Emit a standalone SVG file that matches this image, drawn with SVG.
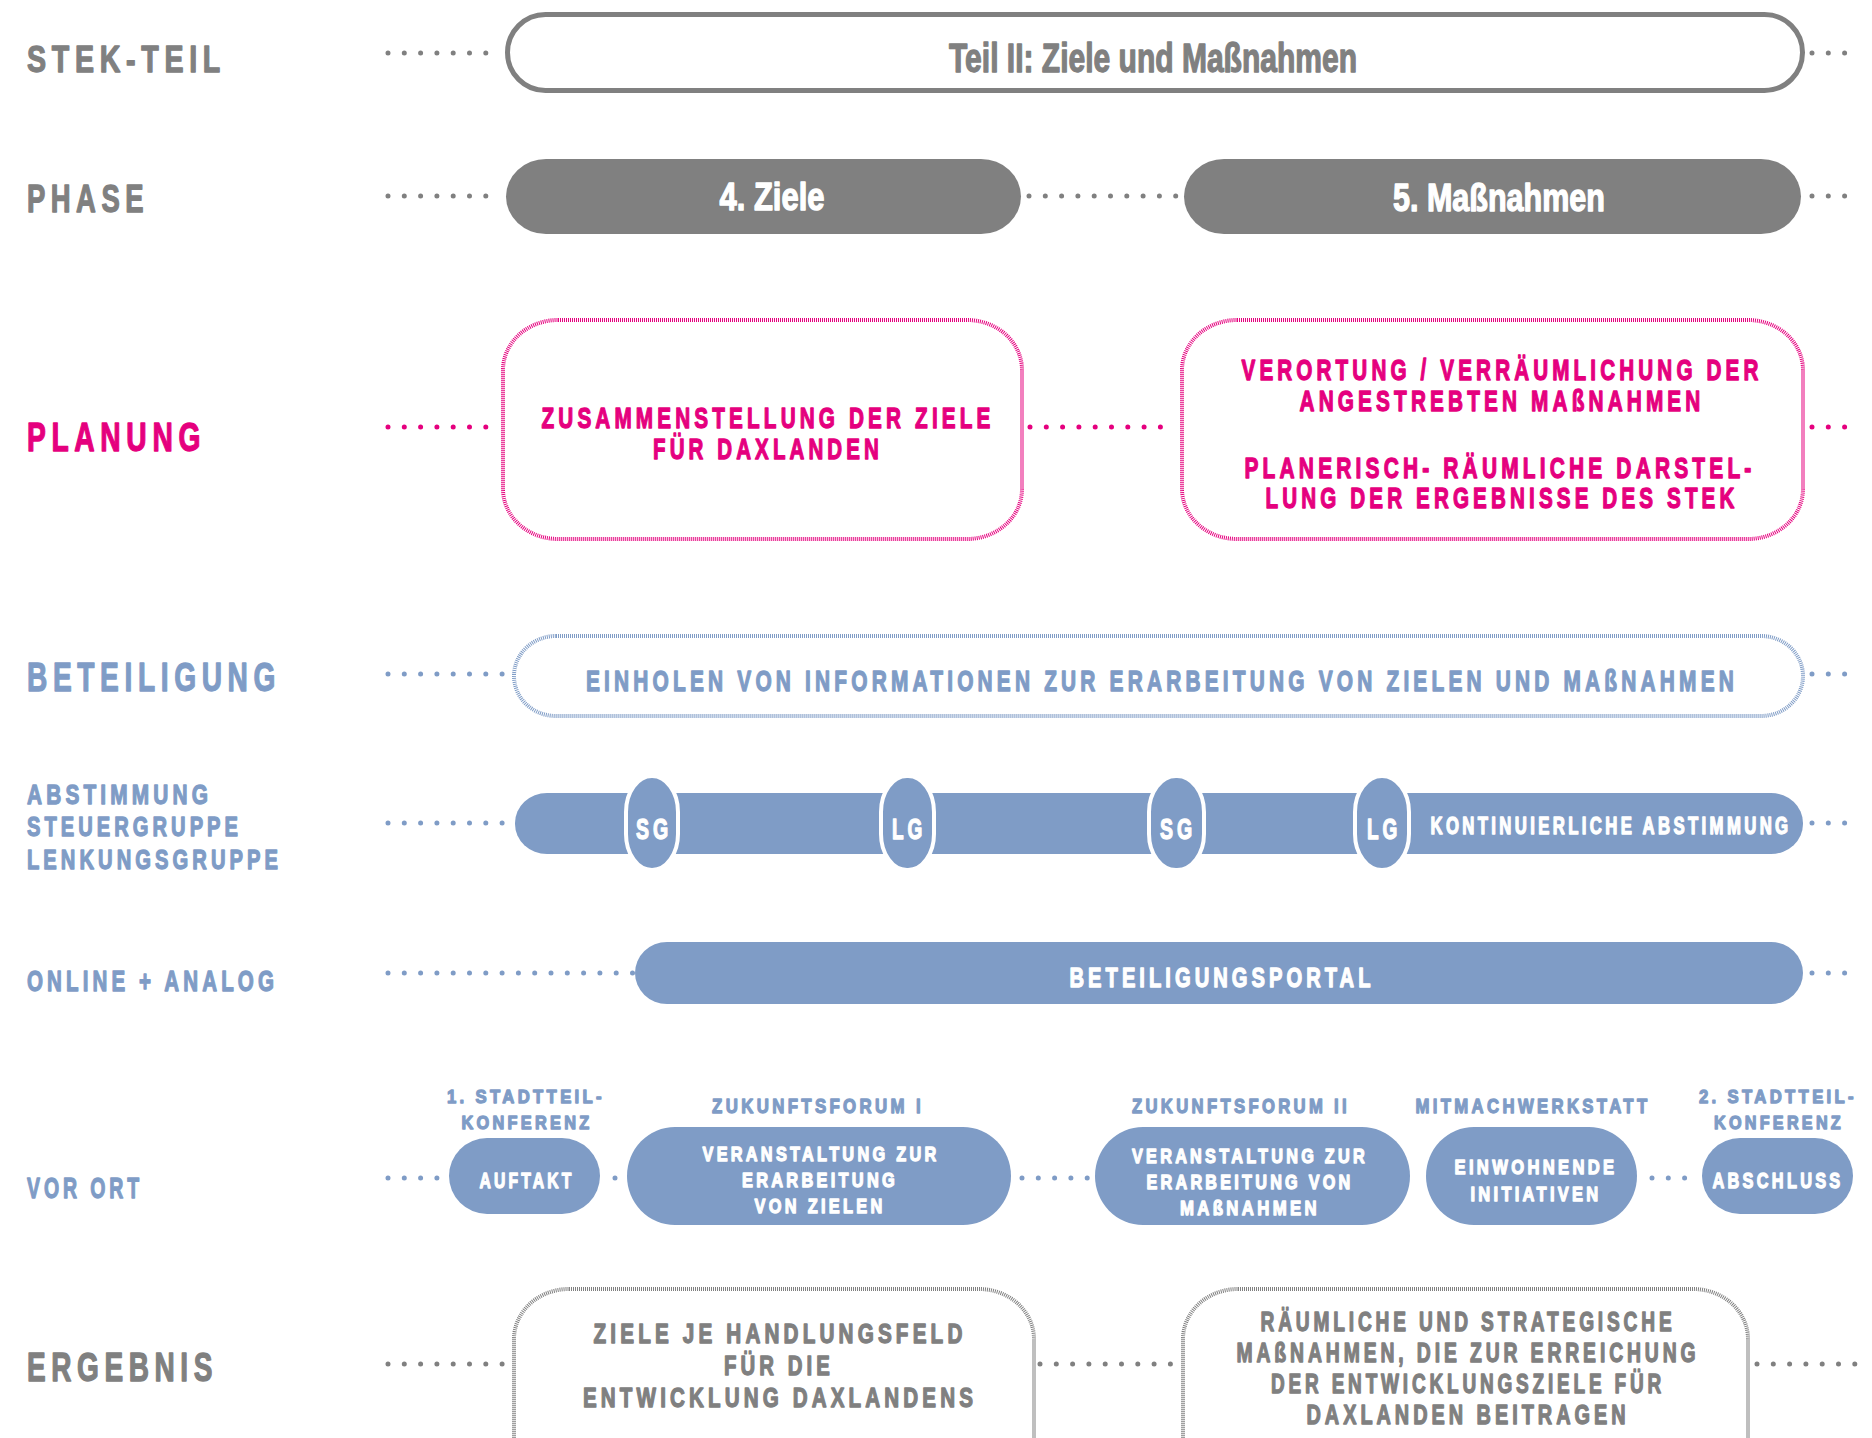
<svg xmlns="http://www.w3.org/2000/svg" width="1872" height="1438" viewBox="0 0 1872 1438">
<style>
text{font-family:"Liberation Sans",Arial,sans-serif;font-weight:bold;stroke-width:1.3px;stroke-linejoin:round}
.g{fill:#808080;stroke:#808080}.p{fill:#e5007e;stroke:#e5007e}.b{fill:#7f9cc6;stroke:#7f9cc6}.w{fill:#ffffff;stroke:#ffffff}
.cap{letter-spacing:0.2em}
.mid{text-anchor:middle}
.dot{fill:none;stroke-width:5;stroke-linecap:round;stroke-dasharray:0 16.3}
.dg{stroke:#808080}.dp{stroke:#e5007e}.db{stroke:#7f9cc6}
.hp{fill:#fff;stroke:#e5007e;stroke-width:4;stroke-dasharray:1 1}
.hb{fill:#fff;stroke:#7f9cc6;stroke-width:4;stroke-dasharray:1 1}
.hg{fill:#fff;stroke:#808080;stroke-width:4;stroke-dasharray:1 1}
.fb{fill:#7f9cc6}
.pill{fill:#7f9cc6;stroke:#fff;stroke-width:4}
</style>

<g id="row-labels">
<text class="g cap" x="27" y="72" font-size="37" textLength="199" lengthAdjust="spacingAndGlyphs">STEK-TEIL</text>
<text class="g cap" x="27" y="212" font-size="39" textLength="122" lengthAdjust="spacingAndGlyphs">PHASE</text>
<text class="p cap" x="27" y="451" font-size="40" textLength="179" lengthAdjust="spacingAndGlyphs">PLANUNG</text>
<text class="b cap" x="27" y="691" font-size="41" textLength="254" lengthAdjust="spacingAndGlyphs">BETEILIGUNG</text>
<text class="b cap" x="27" y="804" font-size="28" textLength="185" lengthAdjust="spacingAndGlyphs">ABSTIMMUNG</text>
<text class="b cap" x="27" y="836" font-size="28" textLength="215" lengthAdjust="spacingAndGlyphs">STEUERGRUPPE</text>
<text class="b cap" x="27" y="869" font-size="28" textLength="255" lengthAdjust="spacingAndGlyphs">LENKUNGSGRUPPE</text>
<text class="b cap" x="27" y="991" font-size="30" textLength="251" lengthAdjust="spacingAndGlyphs">ONLINE + ANALOG</text>
<text class="b cap" x="27" y="1198" font-size="30" textLength="116" lengthAdjust="spacingAndGlyphs">VOR ORT</text>
<text class="g cap" x="27" y="1381" font-size="40" textLength="191" lengthAdjust="spacingAndGlyphs">ERGEBNIS</text>
</g>

<g id="connectors">
<path class="dot dg" d="M388 53H502M1812 53H1856"/>
<path class="dot dg" d="M388 196H502M1029 196H1176M1812 196H1856"/>
<path class="dot dp" d="M388 427H502M1030 427H1176M1812 427H1856"/>
<path class="dot db" d="M388 674H505M1812 674H1856"/>
<path class="dot db" d="M388 823H505M1812 823H1856"/>
<path class="dot db" d="M388 973H633M1812 973H1856"/>
<path class="dot db" d="M388 1178H437M615 1178H615.1M1022 1178H1088M1652 1178H1689"/>
<path class="dot dg" d="M388 1364H505M1040 1364H1176M1757 1364H1856"/>
</g>

<g id="stek-teil">
<rect x="507.5" y="14.5" width="1295" height="76" rx="38" ry="38" fill="#fff" stroke="#808080" stroke-width="5"/>
<text class="g mid" x="1153" y="72" font-size="41" textLength="408" lengthAdjust="spacingAndGlyphs">Teil II: Ziele und Maßnahmen</text>
</g>

<g id="phase-4">
<rect x="506" y="159" width="515" height="75" rx="40" ry="38" fill="#808080"/>
<text class="w mid" x="772" y="210" font-size="38" textLength="105" lengthAdjust="spacingAndGlyphs">4. Ziele</text>
</g>
<g id="phase-5">
<rect x="1184" y="159" width="617" height="75" rx="40" ry="38" fill="#808080"/>
<text class="w mid" x="1499" y="211" font-size="38" textLength="212" lengthAdjust="spacingAndGlyphs">5. Maßnahmen</text>
</g>

<g id="planung-1">
<rect class="hp" x="503" y="320" width="519" height="219" rx="55" ry="50"/>
<text class="p cap mid" x="768" y="428" font-size="30" textLength="453" lengthAdjust="spacingAndGlyphs">ZUSAMMENSTELLUNG DER ZIELE</text>
<text class="p cap mid" x="768" y="459" font-size="30" textLength="230" lengthAdjust="spacingAndGlyphs">FÜR DAXLANDEN</text>
</g>
<g id="planung-2">
<rect class="hp" x="1182" y="320" width="621" height="219" rx="55" ry="50"/>
<text class="p cap mid" x="1502" y="380" font-size="30" textLength="521" lengthAdjust="spacingAndGlyphs">VERORTUNG / VERRÄUMLICHUNG DER</text>
<text class="p cap mid" x="1502" y="411" font-size="30" textLength="405" lengthAdjust="spacingAndGlyphs">ANGESTREBTEN MAßNAHMEN</text>
<text class="p cap mid" x="1500" y="478" font-size="30" textLength="511" lengthAdjust="spacingAndGlyphs">PLANERISCH- RÄUMLICHE DARSTEL-</text>
<text class="p cap mid" x="1502" y="508" font-size="30" textLength="473" lengthAdjust="spacingAndGlyphs">LUNG DER ERGEBNISSE DES STEK</text>
</g>

<g id="beteiligung">
<rect class="hb" x="514" y="636" width="1289" height="80" rx="42" ry="40"/>
<text class="b cap mid" x="1162" y="691" font-size="30" textLength="1152" lengthAdjust="spacingAndGlyphs">EINHOLEN VON INFORMATIONEN ZUR ERARBEITUNG VON ZIELEN UND MAßNAHMEN</text>
</g>

<g id="abstimmung">
<rect class="fb" x="515" y="793" width="1288" height="61" rx="32" ry="30"/>
<text class="w cap mid" x="1611" y="834" font-size="23" textLength="361" lengthAdjust="spacingAndGlyphs">KONTINUIERLICHE ABSTIMMUNG</text>
</g>
<g id="sg-1">
<rect class="pill" x="626" y="776" width="52" height="94" rx="26" ry="36"/>
<text class="w cap mid" x="654" y="839" font-size="29" textLength="36" lengthAdjust="spacingAndGlyphs">SG</text>
</g>
<g id="lg-1">
<rect class="pill" x="881" y="776" width="53" height="94" rx="26" ry="36"/>
<text class="w cap mid" x="909" y="839" font-size="29" textLength="34" lengthAdjust="spacingAndGlyphs">LG</text>
</g>
<g id="sg-2">
<rect class="pill" x="1149" y="776" width="55" height="94" rx="27" ry="36"/>
<text class="w cap mid" x="1178" y="839" font-size="29" textLength="36" lengthAdjust="spacingAndGlyphs">SG</text>
</g>
<g id="lg-2">
<rect class="pill" x="1355" y="776" width="54" height="94" rx="27" ry="36"/>
<text class="w cap mid" x="1384" y="839" font-size="29" textLength="34" lengthAdjust="spacingAndGlyphs">LG</text>
</g>

<g id="beteiligungsportal">
<rect class="fb" x="635" y="942" width="1168" height="62" rx="32" ry="31"/>
<text class="w cap mid" x="1222" y="987" font-size="28" textLength="305" lengthAdjust="spacingAndGlyphs">BETEILIGUNGSPORTAL</text>
</g>

<g id="auftakt">
<text class="b cap mid" x="526" y="1103" font-size="19" textLength="158" lengthAdjust="spacingAndGlyphs">1. STADTTEIL-</text>
<text class="b cap mid" x="527" y="1129" font-size="19" textLength="131" lengthAdjust="spacingAndGlyphs">KONFERENZ</text>
<rect class="fb" x="449" y="1138" width="151" height="76" rx="38" ry="38"/>
<text class="w cap mid" x="527" y="1188" font-size="22" textLength="95" lengthAdjust="spacingAndGlyphs">AUFTAKT</text>
</g>
<g id="zukunftsforum-1">
<text class="b cap mid" x="818" y="1113" font-size="21" textLength="212" lengthAdjust="spacingAndGlyphs">ZUKUNFTSFORUM I</text>
<rect class="fb" x="627" y="1127" width="384" height="98" rx="48" ry="49"/>
<text class="w cap mid" x="821" y="1161" font-size="21" textLength="237" lengthAdjust="spacingAndGlyphs">VERANSTALTUNG ZUR</text>
<text class="w cap mid" x="820" y="1187" font-size="21" textLength="156" lengthAdjust="spacingAndGlyphs">ERARBEITUNG</text>
<text class="w cap mid" x="820" y="1213" font-size="21" textLength="131" lengthAdjust="spacingAndGlyphs">VON ZIELEN</text>
</g>
<g id="zukunftsforum-2">
<text class="b cap mid" x="1241" y="1113" font-size="21" textLength="218" lengthAdjust="spacingAndGlyphs">ZUKUNFTSFORUM II</text>
<rect class="fb" x="1095" y="1127" width="315" height="98" rx="48" ry="49"/>
<text class="w cap mid" x="1250" y="1163" font-size="21" textLength="236" lengthAdjust="spacingAndGlyphs">VERANSTALTUNG ZUR</text>
<text class="w cap mid" x="1250" y="1189" font-size="21" textLength="207" lengthAdjust="spacingAndGlyphs">ERARBEITUNG VON</text>
<text class="w cap mid" x="1250" y="1215" font-size="21" textLength="140" lengthAdjust="spacingAndGlyphs">MAßNAHMEN</text>
</g>
<g id="mitmachwerkstatt">
<text class="b cap mid" x="1533" y="1113" font-size="21" textLength="235" lengthAdjust="spacingAndGlyphs">MITMACHWERKSTATT</text>
<rect class="fb" x="1426" y="1127" width="211" height="98" rx="48" ry="49"/>
<text class="w cap mid" x="1536" y="1174" font-size="21" textLength="163" lengthAdjust="spacingAndGlyphs">EINWOHNENDE</text>
<text class="w cap mid" x="1536" y="1201" font-size="21" textLength="131" lengthAdjust="spacingAndGlyphs">INITIATIVEN</text>
</g>
<g id="abschluss">
<text class="b cap mid" x="1778" y="1103" font-size="19" textLength="158" lengthAdjust="spacingAndGlyphs">2. STADTTEIL-</text>
<text class="b cap mid" x="1779" y="1129" font-size="19" textLength="130" lengthAdjust="spacingAndGlyphs">KONFERENZ</text>
<rect class="fb" x="1702" y="1138" width="151" height="76" rx="38" ry="38"/>
<text class="w cap mid" x="1778" y="1188" font-size="22" textLength="131" lengthAdjust="spacingAndGlyphs">ABSCHLUSS</text>
</g>

<g id="ergebnis-1">
<rect class="hg" x="514" y="1289" width="520" height="220" rx="55" ry="50"/>
<text class="g cap mid" x="780" y="1343" font-size="27" textLength="373" lengthAdjust="spacingAndGlyphs">ZIELE JE HANDLUNGSFELD</text>
<text class="g cap mid" x="779" y="1375" font-size="27" textLength="110" lengthAdjust="spacingAndGlyphs">FÜR DIE</text>
<text class="g cap mid" x="780" y="1407" font-size="27" textLength="394" lengthAdjust="spacingAndGlyphs">ENTWICKLUNG DAXLANDENS</text>
</g>
<g id="ergebnis-2">
<rect class="hg" x="1183" y="1289" width="565" height="220" rx="55" ry="50"/>
<text class="g cap mid" x="1468" y="1331" font-size="27" textLength="415" lengthAdjust="spacingAndGlyphs">RÄUMLICHE UND STRATEGISCHE</text>
<text class="g cap mid" x="1468" y="1362" font-size="27" textLength="463" lengthAdjust="spacingAndGlyphs">MAßNAHMEN, DIE ZUR ERREICHUNG</text>
<text class="g cap mid" x="1468" y="1393" font-size="27" textLength="394" lengthAdjust="spacingAndGlyphs">DER ENTWICKLUNGSZIELE FÜR</text>
<text class="g cap mid" x="1468" y="1424" font-size="27" textLength="323" lengthAdjust="spacingAndGlyphs">DAXLANDEN BEITRAGEN</text>
</g>
</svg>
